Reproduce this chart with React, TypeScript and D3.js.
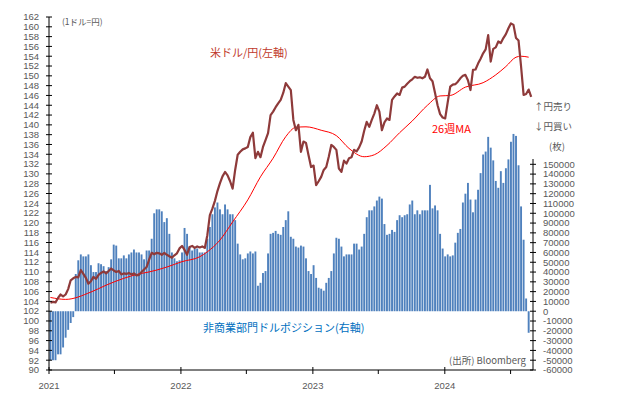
import React from "react";
import * as d3 from "d3";

// 週次データ (2021-01-05 起点、1週ずつ)
const startDate = new Date(2021, 0, 5);

// 米ドル/円 (週末値)
const usdJpy = [
  103.7, 103.9, 103.8, 104.7, 105.4, 105.0, 105.4, 106.5, 108.3, 108.7,
  109.0, 108.9, 110.4, 109.6, 108.8, 107.6, 108.1, 109.0, 108.6, 109.4,
  109.8, 110.1, 109.7, 110.2, 110.7, 110.3, 110.0, 110.2, 109.5, 109.7,
  109.6, 109.8, 109.5, 109.7, 109.3, 109.4, 110.0, 110.5, 111.0, 112.5,
  113.9, 113.6, 113.9, 113.8, 113.5, 113.9, 113.5, 113.2, 112.9, 113.4,
  113.8, 114.8, 115.3, 114.5, 113.5, 115.1, 115.3, 114.9, 115.2, 115.0,
  115.2, 114.9, 117.5, 121.6, 122.9, 124.5, 126.5, 128.1, 129.5, 130.4,
  129.7, 128.5, 127.0, 130.8, 133.9, 134.5, 135.0, 135.2, 135.5, 137.5,
  138.4, 133.2, 134.5, 133.4, 135.5, 136.9, 138.3, 142.0, 142.7, 143.6,
  144.4, 145.1, 146.5, 148.5, 147.8, 147.1, 141.0, 138.9, 140.0, 134.5,
  136.6, 136.3, 133.8, 131.4, 131.7, 127.7, 128.5, 129.4, 130.8, 131.4,
  133.5, 135.9, 135.5, 134.9, 131.1, 130.4, 132.7, 132.1, 133.2, 133.4,
  134.9, 134.6, 135.4, 136.6, 138.8, 140.6, 139.6, 141.0, 142.3, 144.0,
  142.7, 138.9, 140.5, 141.3, 141.0, 145.1, 145.8, 146.4, 146.1, 147.6,
  147.8, 148.4, 148.9, 149.3, 149.8, 149.6, 149.7, 149.5, 149.8, 151.3,
  149.5, 148.9, 146.5, 144.0, 142.2, 141.5, 141.3, 144.6, 147.8, 148.2,
  148.3, 148.8, 149.5, 150.0, 150.2, 149.1, 147.1, 151.2, 151.3, 152.5,
  153.5, 154.6, 155.4, 158.3, 152.9, 155.5, 155.8, 157.0, 156.7, 157.7,
  158.5, 159.7, 160.7, 160.4, 157.7, 157.2, 151.9, 146.1, 146.3, 147.2,
  145.7,
];

// 26週移動平均 (週番号, 値)
const maWeek = [
  0, 6, 16, 22, 29, 35, 39, 46, 52, 59, 62, 67, 72, 78, 83, 88, 93, 97, 101,
  107, 113, 118, 124, 128, 133, 138, 143, 149, 154, 158, 164, 171, 176, 180,
  184, 186, 189,
];
const maValue = [
  104.8, 104.4, 105.9, 107.3, 108.7, 109.6, 110.0, 111.0, 112.1, 113.1,
  114.1, 116.5, 120.2, 124.7, 129.4, 133.2, 137.6, 139.5, 139.6, 138.9,
  137.8, 135.2, 133.5, 133.9, 135.8, 138.4, 140.8, 144.0, 145.9, 146.0,
  147.7, 148.6, 150.2, 151.9, 153.8, 154.0, 153.8,
];

// 非商業部門ドルポジション (枚)
const netPosition = [
  -50000, -50000, -50000, -44000, -44000, -37000, -27000, -19000, -12000, -6000,
  38000, 52000, 58000, 56000, 56000, 58000, 47000, 40000, 40000, 49000,
  48000, 46000, 41000, 45000, 53000, 68000, 67000, 54000, 54000, 57000,
  54000, 58000, 60000, 63000, 60000, 60000, 58000, 53000, 62000, 62000,
  74000, 100000, 104000, 104000, 102000, 91000, 95000, 79000, 60000, 54000,
  51000, 52000, 60000, 85000, 79000, 66000, 62000, 64000, 64000, 60000,
  60000, 60000, 74000, 86000, 99000, 106000, 111000, 104000, 99000, 109000,
  104000, 99000, 99000, 93000, 69000, 58000, 53000, 54000, 59000, 61000,
  59000, 61000, 26000, 29000, 39000, 41000, 59000, 79000, 80000, 82000,
  79000, 78000, 86000, 93000, 102000, 76000, 74000, 66000, 65000, 67000,
  66000, 54000, 41000, 38000, 47000, 34000, 24000, 23000, 21000, 29000,
  34000, 41000, 59000, 75000, 74000, 66000, 56000, 58000, 58000, 58000,
  69000, 69000, 63000, 66000, 79000, 96000, 103000, 103000, 107000, 113000,
  117000, 115000, 89000, 78000, 79000, 83000, 81000, 93000, 98000, 96000,
  98000, 99000, 109000, 113000, 99000, 103000, 99000, 103000, 103000, 103000,
  129000, 105000, 108000, 103000, 79000, 64000, 56000, 58000, 56000, 57000,
  70000, 80000, 84000, 111000, 120000, 131000, 114000, 101000, 114000, 124000,
  141000, 160000, 163000, 178000, 167000, 154000, 133000, 126000, 143000, 131000,
  146000, 155000, 173000, 181000, 179000, 149000, 107000, 73000, 13000, -22000,
];

const leftTicks = d3.range(90, 163, 2);
const rightTicks = d3.range(-60000, 150001, 10000);
const yearLabels = ["2021", "2022", "2023", "2024"];

const weekDate = (i: number) => d3.timeWeek.offset(startDate, i);

const W = 618;
const H = 394;
const gray = "#595959";
const jpFont = "'Noto Sans CJK JP', sans-serif";
const numFont = "'Liberation Sans', Arial, sans-serif";

export default function App() {
  const x = d3
    .scaleTime()
    .domain([new Date(2021, 0, 1), new Date(2024, 8, 1)])
    .range([49, 533]);
  const yL = d3.scaleLinear().domain([90, 162]).range([370, 17]);
  const yR = d3.scaleLinear().domain([-60000, 150000]).range([370, 164.3]);

  const priceLine = d3
    .line<number>()
    .x((_, i) => x(weekDate(i)))
    .y((d) => yL(d));

  const maLine = d3
    .line<number>()
    .x((_, i) => x(weekDate(maWeek[i])))
    .y((d) => yL(d))
    .curve(d3.curveMonotoneX);

  const barW = 1.9;
  const yearTicks = yearLabels.map((y) => new Date(+y, 0, 1));
  const halfTicks = yearLabels.map((y) => new Date(+y, 6, 1));

  return (
    <div style={{ position: "fixed", left: 0, top: 0 }}>
      <svg width={W} height={H} style={{ display: "block", background: "#fff" }}>
        {/* bars */}
        <g>
          {netPosition.map((v, i) => {
            const cx = x(weekDate(i));
            const y0 = yR(0);
            const y1 = yR(v);
            return (
              <rect
                key={i}
                x={cx - barW / 2}
                y={Math.min(y0, y1)}
                width={barW}
                height={Math.abs(y1 - y0)}
                fill="#4f81bd"
              />
            );
          })}
        </g>

        {/* 26週MA */}
        <path d={maLine(maValue) || ""} fill="none" stroke="#ff0000" strokeWidth={1} />
        {/* USD/JPY */}
        <path
          d={priceLine(usdJpy) || ""}
          fill="none"
          stroke="#8e3a3a"
          strokeWidth={2.2}
          strokeLinejoin="round"
        />

        {/* left axis */}
        <line x1={49} x2={49} y1={yL(162)} y2={370} stroke="#000" />
        {leftTicks.map((t) => (
          <g key={t}>
            <line x1={46} x2={52} y1={yL(t)} y2={yL(t)} stroke="#000" />
            <text
              x={39}
              y={yL(t)}
              dy="0.35em"
              textAnchor="end"
              fontSize={9.5}
              fontFamily={numFont}
              fill={gray}
            >
              {t}
            </text>
          </g>
        ))}

        {/* right axis */}
        <line x1={533} x2={533} y1={159} y2={370} stroke="#000" />
        {rightTicks.map((t) => (
          <g key={t}>
            <line x1={530} x2={536} y1={yR(t)} y2={yR(t)} stroke="#000" />
            <text
              x={543}
              y={yR(t)}
              dy="0.35em"
              fontSize={9.5}
              fontFamily={numFont}
              fill={gray}
            >
              {t}
            </text>
          </g>
        ))}

        {/* x axis */}
        <line x1={49} x2={533} y1={370} y2={370} stroke="#000" />
        {yearTicks.map((d, i) => (
          <g key={i}>
            <line x1={x(d)} x2={x(d)} y1={367} y2={374} stroke="#000" />
            <text
              x={x(d)}
              y={389}
              textAnchor="middle"
              fontSize={9.5}
              fontFamily={numFont}
              fill={gray}
            >
              {yearLabels[i]}
            </text>
          </g>
        ))}
        {halfTicks.map((d, i) => (
          <line key={i} x1={x(d)} x2={x(d)} y1={370} y2={374} stroke="#000" />
        ))}

        {/* labels */}
        <text x={62} y={25} fontSize={8.5} fontFamily={jpFont} fill={gray}>
          (1ドル=円)
        </text>
        <text x={210} y={57} fontSize={11} fontFamily={jpFont} fill="#c0392b">
          米ドル/円(左軸)
        </text>
        <text x={432} y={133} fontSize={11} fontFamily={jpFont} fill="#ff0000">
          26週MA
        </text>
        <text x={534} y={110} fontSize={9.5} fontFamily={jpFont} fill={gray}>
          ↑円売り
        </text>
        <text x={534} y={130} fontSize={9.5} fontFamily={jpFont} fill={gray}>
          ↓円買い
        </text>
        <text x={549} y={150} fontSize={9.5} fontFamily={jpFont} fill={gray}>
          (枚)
        </text>
        <text x={203} y={332} fontSize={11} fontFamily={jpFont} fill="#0070c0">
          非商業部門ドルポジション(右軸)
        </text>
        <text x={449} y={364} fontSize={9.5} fontFamily={jpFont} fill={gray}>
          (出所) Bloomberg
        </text>
      </svg>
    </div>
  );
}
